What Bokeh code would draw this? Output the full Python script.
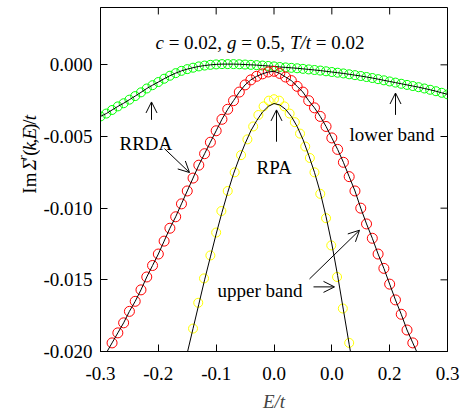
import math
from bokeh.plotting import figure
from bokeh.layouts import row
from bokeh.models import Range1d, FixedTicker, LinearAxis, Label, Arrow, OpenHead
from bokeh.embed import file_html
from bokeh.resources import INLINE

# ---------------- data ----------------
lower_E = [-0.30, -0.29, -0.28, -0.27, -0.26, -0.25, -0.24, -0.23, -0.22, -0.21,
           -0.20, -0.19, -0.18, -0.17, -0.16, -0.15, -0.14, -0.13, -0.12, -0.11,
           -0.10, -0.09, -0.08, -0.07, -0.06, -0.05, -0.04, -0.03, -0.02, -0.01,
           0.00, 0.01, 0.02, 0.03, 0.04, 0.05, 0.06, 0.07, 0.08, 0.09,
           0.10, 0.11, 0.12, 0.13, 0.14, 0.15, 0.16, 0.17, 0.18, 0.19,
           0.20, 0.21, 0.22, 0.23, 0.24, 0.25, 0.26, 0.27, 0.28, 0.29, 0.30]
lower_Im = [-0.00360, -0.00340, -0.00315, -0.00290, -0.00268, -0.00243, -0.00218, -0.00192, -0.00165, -0.00142,
            -0.00120, -0.00097, -0.00076, -0.00058, -0.00042, -0.00030, -0.00020, -0.00011, -0.00005, 0.00000,
            0.00003, 0.00005, 0.00005, 0.00005, 0.00004, 0.00002, 0.00000, -0.00002, -0.00005, -0.00008,
            -0.00011, -0.00015, -0.00018, -0.00021, -0.00024, -0.00028, -0.00032, -0.00036, -0.00040, -0.00045,
            -0.00050, -0.00055, -0.00060, -0.00066, -0.00072, -0.00078, -0.00085, -0.00092, -0.00100, -0.00108,
            -0.00116, -0.00124, -0.00132, -0.00140, -0.00148, -0.00156, -0.00165, -0.00174, -0.00184, -0.00195, -0.00206]

upper_rrda_E = [-0.28, -0.27, -0.26, -0.25, -0.24, -0.23, -0.22, -0.21, -0.20, -0.19,
                -0.18, -0.17, -0.16, -0.15, -0.14, -0.13, -0.12, -0.11, -0.10, -0.09,
                -0.08, -0.07, -0.06, -0.05, -0.04, -0.03, -0.02, -0.01, 0.00, 0.01,
                0.02, 0.03, 0.04, 0.05, 0.06, 0.07, 0.08, 0.09, 0.10, 0.11,
                0.12, 0.13, 0.14, 0.15, 0.16, 0.17, 0.18, 0.19, 0.20, 0.21,
                0.22, 0.23, 0.24]
upper_rrda_Im = [-0.0194, -0.0187, -0.0180, -0.0172, -0.0165, -0.0157, -0.0148, -0.0140, -0.0132, -0.0123,
                 -0.0114, -0.0106, -0.0097, -0.0088, -0.0079, -0.0070, -0.0062, -0.0054, -0.0046, -0.0038,
                 -0.0031, -0.0025, -0.0019, -0.0014, -0.00105, -0.0008, -0.00063, -0.0005, -0.00045, -0.0006,
                 -0.00085, -0.0011, -0.0015, -0.0019, -0.0025, -0.0030, -0.0036, -0.0043, -0.0051, -0.0059,
                 -0.0068, -0.0078, -0.0088, -0.0100, -0.0111, -0.0121, -0.0132, -0.0142, -0.0153, -0.0164,
                 -0.0174, -0.0185, -0.0194]
upper_rrda_line_E = [-0.29] + upper_rrda_E + [0.25]
upper_rrda_line_Im = [-0.0201] + upper_rrda_Im + [-0.0203]

upper_rpa_E = [-0.140, -0.131, -0.121, -0.110, -0.100, -0.091, -0.080, -0.068, -0.057, -0.046,
               -0.036, -0.027, -0.018, -0.009, 0.000, 0.009, 0.018, 0.027, 0.036, 0.045,
               0.054, 0.062, 0.070, 0.080, 0.090, 0.099, 0.109, 0.119, 0.130]
upper_rpa_Im = [-0.0184, -0.0166, -0.0149, -0.0133, -0.0117, -0.0102, -0.0088, -0.0075, -0.0063, -0.0052,
                -0.0043, -0.0035, -0.0029, -0.0025, -0.0024, -0.0025, -0.0029, -0.0034, -0.0040, -0.0048,
                -0.0057, -0.0065, -0.0075, -0.0090, -0.0107, -0.0126, -0.0148, -0.0170, -0.0194]

upper_rpa_line_E = [-0.150, -0.14, -0.13, -0.12, -0.11, -0.10, -0.09, -0.08, -0.07, -0.06,
                    -0.05, -0.04, -0.03, -0.02, -0.01, 0.00, 0.01, 0.02, 0.03, 0.04,
                    0.05, 0.06, 0.07, 0.08, 0.09, 0.10, 0.11, 0.12, 0.13, 0.133]
upper_rpa_line_Im = [-0.0201, -0.0184, -0.0167, -0.0150, -0.0134, -0.0118, -0.0103, -0.0089, -0.0076, -0.0065,
                     -0.0055, -0.0046, -0.0039, -0.0033, -0.0029, -0.0027, -0.0028, -0.0031, -0.0036, -0.0043,
                     -0.0052, -0.0063, -0.0075, -0.0089, -0.0106, -0.0125, -0.0147, -0.0171, -0.0195, -0.0202]

x_ticks = [-0.3, -0.2, -0.1, 0.0, 0.1, 0.2, 0.3]
x_tick_labels = ["-0.3", "-0.2", "-0.1", "0.0", "0.0", "0.2", "0.3"]
y_ticks = [0.0, -0.005, -0.01, -0.015, -0.02]
y_tick_labels = ["0.000", "-0.005", "-0.010", "-0.015", "-0.020"]

# ---------------- layout constants ----------------
FONT = "Liberation Serif"
FS = "19px"
NB = "\u00a0"
W, H = 460, 414
LW = 40                               # strip that holds the y-axis title

X0, X1 = -0.3, 0.3
Y0, Y1 = -0.020, 0.004
FL, FT, FW, FH = 100, 7, 347, 346     # frame position in the picture (px)


def X(px):
    return X0 + (px - FL) / FW * (X1 - X0)


def Y(py):
    return Y1 - (py - FT) / FH * (Y1 - Y0)


# ---------------- strip with the rotated y-axis title ----------------
ylab = figure(width=LW, height=H, output_backend="svg", toolbar_location=None,
              x_range=Range1d(0, LW), y_range=Range1d(H, 0),
              min_border_left=0, min_border_right=0, min_border_top=0, min_border_bottom=0,
              x_axis_location=None, y_axis_location=None)
ylab.outline_line_color = None
ylab.xgrid.visible = False
ylab.ygrid.visible = False
ylab.background_fill_color = "white"
ylab.border_fill_color = "white"

ang = math.pi / 2
bx, by = 28.5, 224
pieces = [(0.0, "Im", False), (28.0, "Σ", True), (45.5, "(", False), (51.8, "k", True),
          (60.2, ",", False), (65.0, "E", True), (76.6, ")", False), (82.9, "/", False),
          (88.2, "t", True)]
for off, t, it in pieces:
    ylab.add_layout(Label(x=bx, y=by - off, text=t, text_font=FONT, text_font_size=FS,
                          text_font_style="italic" if it else "normal", text_color="black",
                          text_align="left", text_baseline="alphabetic", angle=ang))
ylab.add_layout(Label(x=bx - 7, y=by - 40.2, text="r", text_font=FONT, text_font_size="13px",
                      text_font_style="italic", text_color="black",
                      text_align="left", text_baseline="alphabetic", angle=ang))

# ---------------- main figure ----------------
p = figure(width=W - LW, height=H, output_backend="svg", toolbar_location=None,
           x_range=Range1d(X0, X1), y_range=Range1d(Y0, Y1),
           min_border_left=FL - LW, min_border_right=W - FL - FW, min_border_top=FT,
           min_border_bottom=H - FT - FH,
           x_axis_location=None, y_axis_location=None)
p.outline_line_color = "black"
p.outline_line_width = 1
p.background_fill_color = "white"
p.border_fill_color = "white"
p.xgrid.visible = False
p.ygrid.visible = False


def style_axis(ax, ticks, labels):
    ax.ticker = FixedTicker(ticks=ticks)
    ax.axis_line_color = "black"
    ax.major_tick_line_color = "black"
    ax.major_tick_in = 7
    ax.major_tick_out = 0
    ax.minor_tick_in = 0
    ax.minor_tick_out = 0
    ax.major_label_overrides = {t: l for t, l in zip(ticks, labels)}
    ax.major_label_text_font = FONT
    ax.major_label_text_font_size = FS
    ax.major_label_text_color = "black"


xb = LinearAxis(axis_label="E/t")
style_axis(xb, x_ticks, x_tick_labels)
xb.major_label_standoff = 15
xb.axis_label_text_font = FONT
xb.axis_label_text_font_size = FS
xb.axis_label_text_font_style = "italic"
xb.axis_label_standoff = 8
p.add_layout(xb, "below")
yl = LinearAxis()
style_axis(yl, y_ticks, y_tick_labels)
yl.major_label_standoff = 8
p.add_layout(yl, "left")

# mirror ticks on the top and right edges, inward
TX = 7 * (X1 - X0) / FW
TY = 7 * (Y1 - Y0) / FH
p.segment(x0=x_ticks, y0=[Y1] * len(x_ticks), x1=x_ticks, y1=[Y1 - TY] * len(x_ticks),
          line_color="black", line_width=1)
p.segment(x0=[X1] * len(y_ticks), y0=y_ticks, x1=[X1 - TX] * len(y_ticks), y1=y_ticks,
          line_color="black", line_width=1)

# ---------------- series ----------------
p.scatter(lower_E, lower_Im, marker="circle", size=9, fill_color=None,
          line_color="#00ff00", line_width=1)
p.line(lower_E, lower_Im, line_color="black", line_width=1)
p.scatter(upper_rrda_E, upper_rrda_Im, marker="circle", size=10, fill_color=None,
          line_color="#ff0000", line_width=1)
p.line(upper_rrda_line_E, upper_rrda_line_Im, line_color="black", line_width=1)
p.scatter(upper_rpa_E, upper_rpa_Im, marker="circle", size=9, fill_color=None,
          line_color="#ffff00", line_width=1)
p.line(upper_rpa_line_E, upper_rpa_line_Im, line_color="black", line_width=1)


# ---------------- texts ----------------
def lab(px, py, text, italic=False, size=FS, align="left"):
    p.add_layout(Label(x=X(px), y=Y(py), text=text, text_font=FONT, text_font_size=size,
                       text_font_style="italic" if italic else "normal",
                       text_color="black", text_align=align, text_baseline="alphabetic"))


# title line: c = 0.02, g = 0.5, T/t = 0.02
tx, ty = 155, 42
lab(tx + 0.0, ty, "c", True)
lab(tx + 8.4, ty, NB + "=" + NB + "0.02," + NB)
lab(tx + 71.4, ty, "g", True)
lab(tx + 80.9, ty, NB + "=" + NB + "0.5," + NB)
lab(tx + 134.4, ty, "T/t", True)
lab(tx + 155.5, ty, NB + "=" + NB + "0.02")

lab(119, 144, "RRDA")
lab(256, 168, "RPA")
lab(349, 135, "lower band")
lab(217, 292, "upper band")


# ---------------- arrows ----------------
def arrow(x0, y0, x1, y1):
    p.add_layout(Arrow(x_start=X(x0), y_start=Y(y0), x_end=X(x1), y_end=Y(y1),
                       line_color="black", line_width=1,
                       end=OpenHead(size=11, line_color="black", line_width=1)))


arrow(151, 120, 151, 102)      # RRDA -> lower band
arrow(164, 149, 189, 173)      # RRDA -> upper band
arrow(276, 142, 276, 110)      # RPA
arrow(395, 115, 395, 93)       # lower band
arrow(309, 280, 359, 231)      # upper band -> RRDA
arrow(313, 288, 334, 288)      # upper band -> RPA

layout = row(ylab, p, spacing=0)
open("out.html", "w").write(file_html(layout, INLINE))
